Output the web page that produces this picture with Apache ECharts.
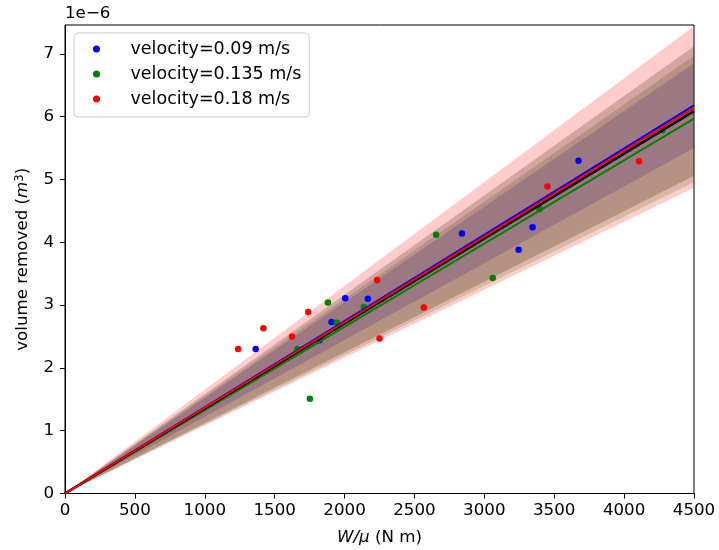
<!DOCTYPE html>
<html>
<head>
<meta charset="utf-8">
<script src="https://cdn.jsdelivr.net/npm/echarts@6/dist/echarts.min.js"></script>
<style>html,body{margin:0;padding:0;background:#fff}#c{width:719px;height:550px}</style>
</head>
<body>
<div id="c"></div>
<script>
// ---- data (y values in units of 1e-6 m^3) ----
const xTicks = [0, 500, 1000, 1500, 2000, 2500, 3000, 3500, 4000, 4500];
const yTicks = [0, 1, 2, 3, 4, 5, 6, 7];
const xMin = 0, xMax = 4500, yMin = 0, yMax = 7.46;

const seriesNames = ['velocity=0.09 m/s', 'velocity=0.135 m/s', 'velocity=0.18 m/s'];

const blueX  = [1364, 1821, 1907, 2005, 2167, 2840, 3245, 3345, 3674];
const blueY  = [2.30, 2.44, 2.73, 3.11, 3.10, 4.14, 3.88, 4.24, 5.30];
const greenX = [1662, 1752, 1881, 1945, 2138, 2655, 3060, 3395, 4274];
const greenY = [2.30, 1.51, 3.04, 2.72, 2.97, 4.12, 3.43, 4.53, 5.79];
const redX   = [1238, 1419, 1624, 1740, 2233, 2250, 2567, 3452, 4107];
const redY   = [2.30, 2.63, 2.50, 2.89, 3.40, 2.47, 2.96, 4.89, 5.29];

// fitted lines through origin: x and y at both ends
const fitX      = [0, 4500];
const fitBlue   = [0, 6.18];
const fitGreen  = [0, 5.97];
const fitRed    = [0, 6.14];
const fitAll    = [0, 6.09];

// uncertainty bands: [lower, upper] at x = 4500 (apex at origin)
const bandBlue  = [5.50, 6.85];
const bandGreen = [4.96, 6.97];
const bandAll   = [5.06, 7.12];
const bandRed   = [4.87, 7.44];

const FONT = 'DejaVu Sans';
const zip = (a, b) => a.map((v, i) => [v, b[i]]);

function bandSeries(band, color) {
  return {
    type: 'custom',
    silent: true,
    clip: true,
    data: [[fitX[0], 0, fitX[1], band[0], band[1]]],
    encode: { x: [0, 2], y: [1, 3, 4] },
    renderItem: function (params, api) {
      const p0 = api.coord([api.value(0), api.value(1)]);
      const p1 = api.coord([api.value(2), api.value(4)]);
      const p2 = api.coord([api.value(2), api.value(3)]);
      return {
        type: 'polygon',
        shape: { points: [p0, p1, p2] },
        style: { fill: color, opacity: 0.2 }
      };
    }
  };
}
function lineSeries(ys, color, w) {
  return {
    type: 'line', silent: true, symbol: 'none',
    data: zip(fitX, ys),
    lineStyle: { color: color, width: w }
  };
}
function scatterSeries(name, xs, ys, color) {
  return {
    type: 'scatter', name: name, symbol: 'circle', symbolSize: 6.5,
    itemStyle: { color: color, opacity: 1 },
    data: zip(xs, ys)
  };
}

const chart = echarts.init(document.getElementById('c'), null, { renderer: 'canvas' });
chart.setOption({
  animation: false,
  backgroundColor: '#fff',
  textStyle: { fontFamily: FONT },
  grid: { left: 65, right: 25, top: 25, bottom: 56.5, outerBoundsMode: 'none', containLabel: false,
          show: true, borderColor: '#000', borderWidth: 1, backgroundColor: 'transparent' },
  graphic: [{
    type: 'text', left: 65, top: 5,
    style: { text: '1e\u22126', fontFamily: FONT, fontSize: 16.7, fill: '#000' }
  }],
  legend: {
    data: seriesNames,
    orient: 'vertical',
    left: 74, top: 33,
    padding: [6, 8, 8, 19],
    itemWidth: 40, itemHeight: 7, itemGap: 5,
    icon: 'circle',
    itemStyle: { opacity: 1 },
    borderColor: '#cccccc', borderWidth: 1, borderRadius: 4,
    backgroundColor: 'rgba(255,255,255,0.8)',
    textStyle: { fontFamily: FONT, fontSize: 17.5, color: '#000', lineHeight: 20, padding: [0, 0, 0, 9] }
  },
  xAxis: {
    type: 'value', min: xMin, max: xMax, interval: 500,
    name: '{i|W/\u03bc} (N m)',
    nameLocation: 'middle', nameGap: 36,
    nameTextStyle: { fontFamily: FONT, fontSize: 16.7, color: '#000', rich: { i: { fontFamily: FONT, fontStyle: 'italic', fontSize: 16.7 } } },
    axisLine: { show: true, lineStyle: { color: '#000', width: 1 } },
    axisTick: { show: true, length: 5, inside: false, lineStyle: { color: '#000' }, customValues: xTicks },
    axisLabel: { fontFamily: FONT, fontSize: 16.7, color: '#000', margin: 9, customValues: xTicks,
                 formatter: v => String(v) },
    splitLine: { show: false }
  },
  yAxis: {
    type: 'value', min: yMin, max: yMax,
    name: 'volume removed ({i|m}{sup|3})',
    nameLocation: 'middle', nameGap: 33, nameRotate: 90,
    nameTextStyle: { fontFamily: FONT, fontSize: 16.7, color: '#000',
      rich: { i: { fontFamily: FONT, fontStyle: 'italic', fontSize: 16.7 },
              sup: { fontFamily: FONT, fontSize: 11.7, verticalAlign: 'top', padding: [0, 0, 6, 0] } } },
    axisLine: { show: true, lineStyle: { color: '#000', width: 1 } },
    axisTick: { show: true, length: 5, inside: false, lineStyle: { color: '#000' }, customValues: yTicks },
    axisLabel: { fontFamily: FONT, fontSize: 16.7, color: '#000', margin: 11, customValues: yTicks,
                 formatter: v => String(v) },
    splitLine: { show: false }
  },
  series: [
    bandSeries(bandBlue, '#0000ff'),
    bandSeries(bandGreen, '#008000'),
    bandSeries(bandAll, '#000000'),
    bandSeries(bandRed, '#ff0000'),
    scatterSeries(seriesNames[0], blueX, blueY, '#0000ff'),
    scatterSeries(seriesNames[1], greenX, greenY, '#008000'),
    scatterSeries(seriesNames[2], redX, redY, '#ff0000'),
    lineSeries(fitBlue, '#0000ff', 2),
    lineSeries(fitGreen, '#008000', 2),
    lineSeries(fitAll, '#000000', 2.6),
    lineSeries(fitRed, '#ff0000', 2)
  ]
});
</script>
</body>
</html>
